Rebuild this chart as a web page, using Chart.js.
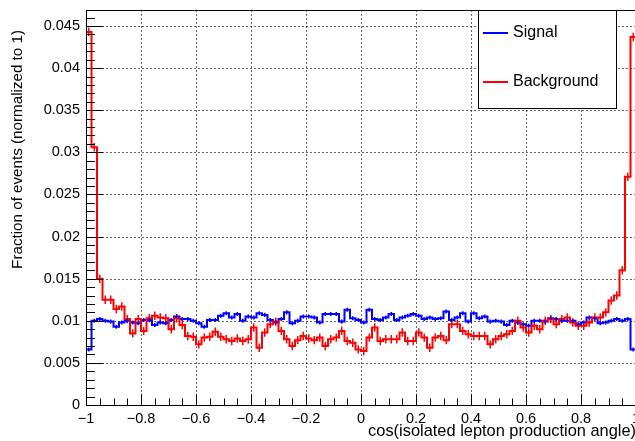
<!DOCTYPE html>
<html>
<head>
<meta charset="utf-8">
<script src="https://cdn.jsdelivr.net/npm/chart.js@4.4.1/dist/chart.umd.min.js"></script>
<style>
  html, body { margin: 0; padding: 0; background: #fff; overflow: hidden; }
  #wrap { width: 637px; height: 441px; }
</style>
</head>
<body>
<div id="wrap"><canvas id="chart"></canvas></div>
<script>
// histogram binning: 100 bins from -1 to 1
const xMin = -1, xMax = 1, nBins = 100;

// fraction of events per bin
const signal = [
  0.0066, 0.0100, 0.0102, 0.0100, 0.0099, 0.0093, 0.0098, 0.0100, 0.0098, 0.0097,
  0.0101, 0.0101, 0.0095, 0.0098, 0.0097, 0.0101, 0.0105, 0.0102, 0.0102, 0.0100,
  0.0097, 0.0093, 0.0101, 0.0101, 0.0106, 0.0109, 0.0104, 0.0108, 0.0100, 0.0105,
  0.0104, 0.0109, 0.0107, 0.0101, 0.0098, 0.0102, 0.0110, 0.0097, 0.0100, 0.0105,
  0.0105, 0.0104, 0.0098, 0.0108, 0.0108, 0.0108, 0.0099, 0.0113, 0.0103, 0.0101,
  0.0098, 0.0113, 0.0102, 0.0101, 0.0104, 0.0108, 0.0101, 0.0104, 0.0106, 0.0108,
  0.0106, 0.0102, 0.0104, 0.0102, 0.0103, 0.0111, 0.0101, 0.0104, 0.0109, 0.0099,
  0.0109, 0.0103, 0.0105, 0.0099, 0.0100, 0.0099, 0.0095, 0.0100, 0.0098, 0.0096,
  0.0094, 0.0100, 0.0100, 0.0099, 0.0103, 0.0102, 0.0100, 0.0100, 0.0100, 0.0096,
  0.0098, 0.0104, 0.0103, 0.0097, 0.0098, 0.0100, 0.0102, 0.0100, 0.0102, 0.0066
];

const background = [
  0.0443, 0.0306, 0.0150, 0.0125, 0.0125, 0.0114, 0.0117, 0.0102, 0.0085, 0.0102,
  0.0088, 0.0103, 0.0106, 0.0104, 0.0103, 0.0090, 0.0103, 0.0095, 0.0082, 0.0081,
  0.0072, 0.0080, 0.0081, 0.0087, 0.0081, 0.0078, 0.0076, 0.0079, 0.0076, 0.0078,
  0.0092, 0.0068, 0.0086, 0.0096, 0.0099, 0.0088, 0.0078, 0.0070, 0.0077, 0.0082,
  0.0079, 0.0077, 0.0080, 0.0070, 0.0078, 0.0080, 0.0088, 0.0076, 0.0074, 0.0066,
  0.0064, 0.0080, 0.0092, 0.0076, 0.0078, 0.0078, 0.0078, 0.0086, 0.0076, 0.0076,
  0.0086, 0.0080, 0.0068, 0.0080, 0.0082, 0.0077, 0.0096, 0.0096, 0.0088, 0.0084,
  0.0082, 0.0082, 0.0082, 0.0072, 0.0078, 0.0082, 0.0084, 0.0088, 0.0100, 0.0092,
  0.0086, 0.0094, 0.0090, 0.0100, 0.0102, 0.0096, 0.0102, 0.0104, 0.0098, 0.0094,
  0.0094, 0.0098, 0.0104, 0.0104, 0.0110, 0.0124, 0.0130, 0.0160, 0.0271, 0.0437
];

// approximate size of the error bars
const signalErr = 0.00024;
const backgroundErr = 0.0005;

const xTickValues = [-1, -0.8, -0.6, -0.4, -0.2, 0, 0.2, 0.4, 0.6, 0.8, 1];
const xTickLabels = ['\u22121', '\u22120.8', '\u22120.6', '\u22120.4', '\u22120.2', '0', '0.2', '0.4', '0.6', '0.8', '1'];
const yTickValues = [0, 0.005, 0.01, 0.015, 0.02, 0.025, 0.03, 0.035, 0.04, 0.045];
const yTickLabels = ['0', '0.005', '0.01', '0.015', '0.02', '0.025', '0.03', '0.035', '0.04', '0.045'];
const yMax = 0.0469;
const xMinorStep = 0.05, yMinorStep = 0.001;

const xTitle = 'cos(isolated lepton production angle)';
const yTitle = 'Fraction of events (normalized to 1)';

const FONT = '"Liberation Sans", Arial, sans-serif';
const binWidth = (xMax - xMin) / nBins;

function histPoints(values) {
  const pts = values.map((v, i) => ({ x: xMin + i * binWidth, y: v }));
  pts.push({ x: xMax, y: values[values.length - 1] });
  return pts;
}

// no extra room for edge labels, the plot frame is fixed
function noScalePadding(s) {
  s.paddingTop = 0; s.paddingBottom = 0; s.paddingLeft = 0; s.paddingRight = 0;
}

// grid, frame, ticks, error bars, titles and legend in ROOT style
const rootStyle = {
  id: 'rootStyle',
  beforeDatasetsDraw(chart) {
    const { ctx, chartArea: a, scales: { x, y } } = chart;
    ctx.save();
    ctx.strokeStyle = 'rgba(0,0,0,0.6)';
    ctx.lineWidth = 1;
    ctx.setLineDash([2, 2]);
    xTickValues.forEach(v => {
      const px = Math.round(x.getPixelForValue(v)) + 0.5;
      if (px <= a.left + 1 || px >= a.right - 1) return;
      ctx.beginPath(); ctx.moveTo(px, a.top); ctx.lineTo(px, a.bottom); ctx.stroke();
    });
    yTickValues.forEach(v => {
      const py = Math.round(y.getPixelForValue(v)) + 0.5;
      if (py >= a.bottom - 1) return;
      ctx.beginPath(); ctx.moveTo(a.left, py); ctx.lineTo(a.right, py); ctx.stroke();
    });
    ctx.restore();
  },
  afterDatasetsDraw(chart) {
    const { ctx, chartArea: a, scales: { x, y } } = chart;
    ctx.save();

    // error bars
    chart.data.datasets.forEach(ds => {
      ctx.strokeStyle = ds.borderColor;
      ctx.lineWidth = 1.5;
      ds.values.forEach((v, i) => {
        const px = x.getPixelForValue(xMin + (i + 0.5) * binWidth);
        ctx.beginPath();
        ctx.moveTo(px, y.getPixelForValue(v - ds.err));
        ctx.lineTo(px, y.getPixelForValue(v + ds.err));
        ctx.stroke();
      });
    });

    // frame
    ctx.strokeStyle = '#000';
    ctx.lineWidth = 1;
    ctx.strokeRect(a.left + 0.5, a.top + 0.5, a.right - a.left - 1, a.bottom - a.top);

    // ticks
    ctx.beginPath();
    for (let v = xMin; v <= xMax + 1e-9; v += xMinorStep) {
      const px = Math.round(x.getPixelForValue(v)) + 0.5;
      const major = xTickValues.some(t => Math.abs(t - v) < 1e-6);
      ctx.moveTo(px, a.bottom);
      ctx.lineTo(px, a.bottom - (major ? 11 : 6.5));
    }
    for (let v = 0; v <= yMax + 1e-9; v += yMinorStep) {
      const py = Math.round(y.getPixelForValue(v)) + 0.5;
      const major = yTickValues.some(t => Math.abs(t - v) < 1e-6);
      ctx.moveTo(a.left, py);
      ctx.lineTo(a.left + (major ? 17 : 9), py);
    }
    ctx.stroke();

    // axis titles
    ctx.fillStyle = '#000';
    ctx.textBaseline = 'middle';
    ctx.textAlign = 'right';
    ctx.font = '16.4px ' + FONT;
    ctx.fillText(xTitle, 636, 431);
    ctx.save();
    ctx.font = '15.2px ' + FONT;
    ctx.translate(18, 30);
    ctx.rotate(-Math.PI / 2);
    ctx.fillText(yTitle, 0, 0);
    ctx.restore();

    // legend box
    const lx = 478, ly = 10, lw = 138, lh = 98;
    ctx.fillStyle = '#fff';
    ctx.fillRect(lx, ly, lw, lh);
    ctx.strokeStyle = '#000';
    ctx.strokeRect(lx + 0.5, ly + 0.5, lw, lh);
    const legendOrder = [1, 0];
    legendOrder.forEach((di, k) => {
      const ds = chart.data.datasets[di];
      const yy = 33 + k * 49;
      ctx.strokeStyle = ds.borderColor;
      ctx.lineWidth = 2;
      ctx.beginPath(); ctx.moveTo(483, yy); ctx.lineTo(508, yy); ctx.stroke();
      ctx.fillStyle = '#000';
      ctx.font = '16px ' + FONT;
      ctx.textAlign = 'left';
      ctx.fillText(ds.label, 513, yy);
    });
    ctx.restore();
  }
};

new Chart(document.getElementById('chart'), {
  type: 'line',
  data: {
    datasets: [
      {
        label: 'Background',
        data: histPoints(background),
        values: background,
        err: backgroundErr,
        borderColor: '#ff0000',
        borderWidth: 2,
        stepped: 'before',
        pointRadius: 0,
        fill: false,
        order: 0
      },
      {
        label: 'Signal',
        data: histPoints(signal),
        values: signal,
        err: signalErr,
        borderColor: '#0000ff',
        borderWidth: 2,
        stepped: 'before',
        pointRadius: 0,
        fill: false,
        order: 1
      }
    ]
  },
  options: {
    responsive: true,
    maintainAspectRatio: false,
    animation: false,
    layout: { autoPadding: false, padding: { top: 10, right: 1, bottom: 0, left: 0 } },
    plugins: { legend: { display: false }, tooltip: { enabled: false } },
    scales: {
      x: {
        type: 'linear',
        min: xMin,
        max: xMax,
        grid: { display: false, drawTicks: false },
        border: { display: false },
        afterBuildTicks: s => { s.ticks = xTickValues.map(v => ({ value: v })); },
        afterFit: s => { s.height = 36; noScalePadding(s); },
        ticks: {
          autoSkip: false,
          maxRotation: 0,
          padding: 5,
          color: '#000',
          font: { family: FONT, size: 14.5 },
          callback: (v, i) => xTickLabels[i]
        }
      },
      y: {
        type: 'linear',
        min: 0,
        max: yMax,
        grid: { display: false, drawTicks: false },
        border: { display: false },
        afterBuildTicks: s => { s.ticks = yTickValues.map(v => ({ value: v })); },
        afterFit: s => { s.width = 86; noScalePadding(s); },
        ticks: {
          autoSkip: false,
          padding: 6,
          color: '#000',
          font: { family: FONT, size: 14.5 },
          callback: (v, i) => yTickLabels[i]
        }
      }
    }
  },
  plugins: [rootStyle]
});
</script>
</body>
</html>
